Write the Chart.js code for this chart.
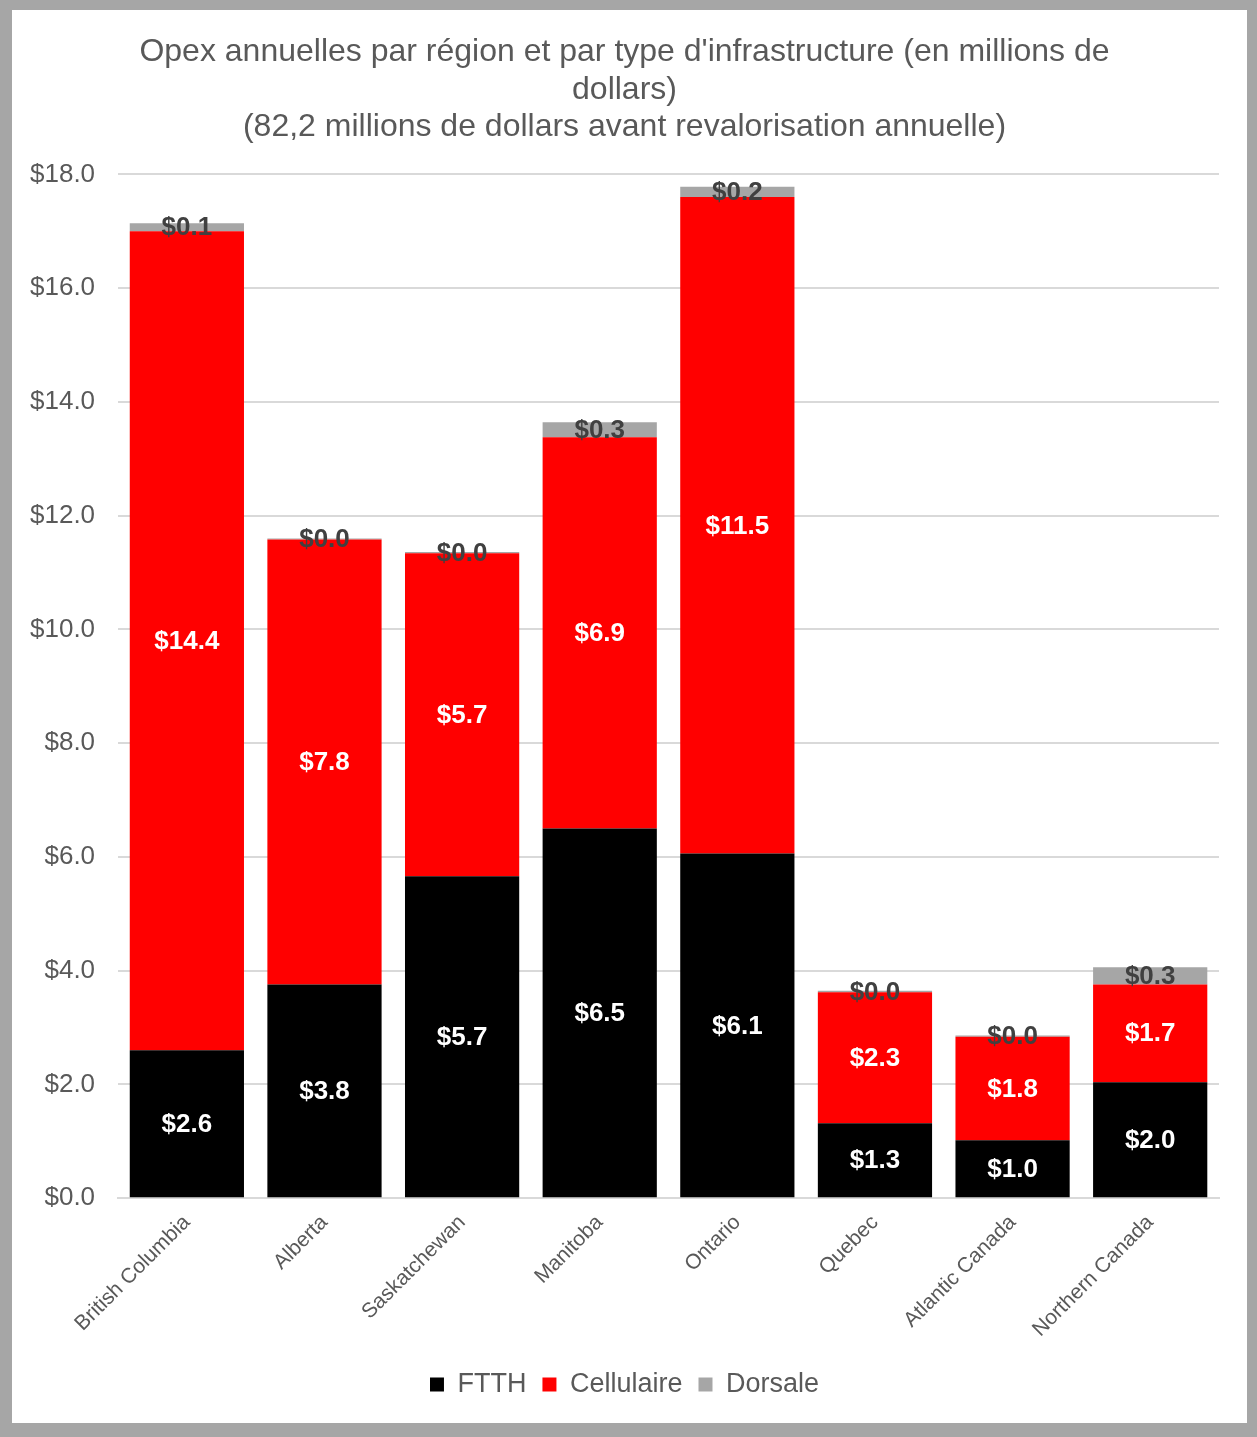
<!DOCTYPE html>
<html>
<head>
<meta charset="utf-8">
<script src="https://cdn.jsdelivr.net/npm/chart.js@4"></script>
<style>
  html, body { margin: 0; padding: 0; background: #a6a6a6; }
  #cadre { position: absolute; left: 12px; top: 10px; width: 1235px; height: 1413px; background: #fff; }
</style>
</head>
<body>
<div id="cadre"><canvas id="myChart" width="1235" height="1413"></canvas></div>
<script>
var regions = ["British Columbia", "Alberta", "Saskatchewan", "Manitoba", "Ontario", "Quebec", "Atlantic Canada", "Northern Canada"];
var ftth = [2.6, 3.76, 5.66, 6.5, 6.06, 1.32, 1.02, 2.04];
var cellulaire = [14.4, 7.82, 5.68, 6.88, 11.54, 2.3, 1.82, 1.72];
var dorsale = [0.14, 0.02, 0.02, 0.26, 0.18, 0.03, 0.02, 0.3];

var police = "'Liberation Sans', Arial, sans-serif";
var gris = "#595959";

// etiquettes au centre de chaque segment
var etiquettes = {
  id: "etiquettes",
  afterDatasetsDraw: function(chart) {
    var ctx = chart.ctx;
    ctx.save();
    ctx.font = "bold 26px " + police;
    ctx.textAlign = "center";
    ctx.textBaseline = "middle";
    chart.data.datasets.forEach(function(ds, i) {
      var meta = chart.getDatasetMeta(i);
      meta.data.forEach(function(bar, j) {
        ctx.fillStyle = i == 2 ? "#404040" : "#ffffff";
        ctx.fillText("$" + ds.data[j].toFixed(1), bar.x, (bar.y + bar.base) / 2 + 1);
      });
    });
    ctx.restore();
  }
};

window.onload = function() {
  montarFigura();
};

function montarFigura() {
  var ctx = document.getElementById("myChart").getContext("2d");
  new Chart(ctx, {
    type: "bar",
    data: {
      labels: regions,
      datasets: [
        { label: "FTTH", data: ftth, backgroundColor: "#000000" },
        { label: "Cellulaire", data: cellulaire, backgroundColor: "#ff0000" },
        { label: "Dorsale", data: dorsale, backgroundColor: "#a6a6a6" }
      ]
    },
    options: {
      responsive: false,
      animation: false,
      barPercentage: 0.83,
      categoryPercentage: 1,
      layout: { padding: { left: 18, right: 28, top: 24, bottom: 15 } },
      plugins: {
        title: {
          display: true,
          text: ["Opex annuelles par région et par type d'infrastructure (en millions de", "dollars)", "(82,2 millions de dollars avant revalorisation annuelle)"],
          color: gris,
          font: { family: police, size: 32, weight: "normal", lineHeight: 1.16 },
          padding: { top: 0, bottom: 29 }
        },
        legend: {
          position: "bottom",
          labels: {
            color: gris,
            font: { family: police, size: 27 },
            boxWidth: 14,
            boxHeight: 14,
            padding: 16
          }
        },
        tooltip: { enabled: false }
      },
      scales: {
        x: {
          stacked: true,
          grid: { display: false },
          border: { color: "#d9d9d9", width: 2 },
          ticks: {
            color: gris,
            font: { family: police, size: 21 },
            maxRotation: 45,
            minRotation: 45,
            padding: 4
          },
          afterFit: function(s) { s.height += 9; }
        },
        y: {
          stacked: true,
          min: 0,
          max: 18,
          grid: { color: "#d9d9d9", lineWidth: 2, drawTicks: false },
          border: { display: false },
          ticks: {
            stepSize: 2,
            color: gris,
            font: { family: police, size: 26 },
            padding: 23,
            callback: function(v) { return "$" + v.toFixed(1); }
          },
          afterFit: function(s) { s.width -= 23; }
        }
      }
    },
    plugins: [etiquettes]
  });
}
</script>
</body>
</html>
